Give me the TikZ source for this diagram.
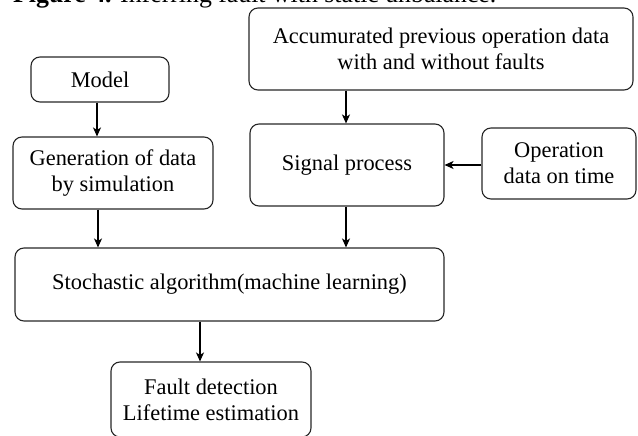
\documentclass[tikz,border=0pt]{standalone}
\usepackage{fontspec}
\setmainfont{Liberation Serif}
\usetikzlibrary{arrows.meta}
\begin{document}
\begin{tikzpicture}[x=1bp,y=-1bp,
  box/.style={draw=black!85, line width=1.1bp, rounded corners=9bp, align=center, inner sep=0pt,
    font=\fontsize{22.4bp}{26bp}\selectfont},
  arr/.style={line width=1.4bp, -{Stealth[length=9bp,width=8bp,inset=2.5bp]}}]
\useasboundingbox (0,0) rectangle (638,436);
\clip (0,0) rectangle (638,436);
\node[anchor=base west, inner sep=0pt, font=\fontsize{25.8bp}{30bp}\selectfont] (cap) at (13,2.5)
  {\textbf{Figure 4.} Inferring fault with static unbalance.};
\node[box, minimum width=138bp, minimum height=45bp] (model) at (100,79.5) {Model};
\node[box, minimum width=200bp, minimum height=72bp] (gen) at (113,173) {Generation of data\\by simulation};
\node[box, minimum width=384bp, minimum height=82bp] (acc) at (441,49) {Accumurated previous operation data\\with and without faults};
\node[box, minimum width=194bp, minimum height=82bp] (sig) at (347,165) {Signal process};
\node[box, minimum width=154bp, minimum height=71bp] (op) at (559,163.5) {Operation\\data on time};
\node[box, minimum width=429bp, minimum height=73bp] (sto) at (229.5,284.5) {Stochastic algorithm(machine learning)};
\node[box, minimum width=200bp, minimum height=75bp] (fault) at (211,399.5) {Fault detection\\Lifetime estimation};

\draw[arr] ([xshift=-3bp]model.south) -- ([xshift=-3bp]model.south |- gen.north);
\draw[arr] ([xshift=-15bp]gen.south) -- ([xshift=-15bp]gen.south |- sto.north);
\draw[arr] ([xshift=-1bp]sig.north |- acc.south) -- ([xshift=-1bp]sig.north);
\draw[arr] ([xshift=-1bp]sig.south) -- ([xshift=-1bp]sig.south |- sto.north);
\draw[arr] (op.west |- sig.east) -- (sig.east);
\draw[arr] ([xshift=-11bp]fault.north |- sto.south) -- ([xshift=-11bp]fault.north);
\end{tikzpicture}
\end{document}
